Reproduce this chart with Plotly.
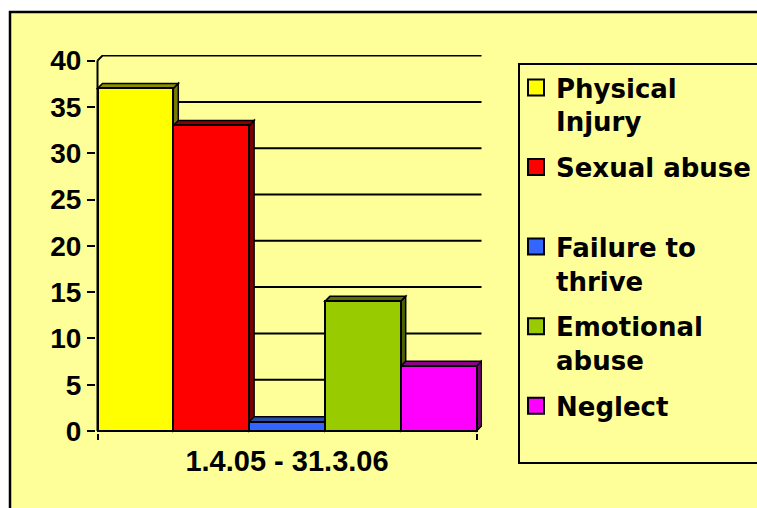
import plotly.graph_objects as go

# ---------------- data ----------------
period_label = "1.4.05 - 31.3.06"
series_names = ["Physical Injury", "Sexual abuse", "Failure to thrive", "Emotional abuse", "Neglect"]
legend_labels = ["Physical<br>Injury", "Sexual abuse<br> ", "Failure to<br>thrive", "Emotional<br>abuse", "Neglect"]
values = [37, 33, 1, 14, 7]
y_ticks = [0, 5, 10, 15, 20, 25, 30, 35, 40]

# ---------------- style ----------------
front_colors = ["#FFFF00", "#FF0000", "#3366FF", "#99CC00", "#FF00FF"]
top_colors = ["#8C8C00", "#8C0000", "#2A4DA8", "#557000", "#8C008C"]
side_colors = ["#7A7A00", "#7A0000", "#1F3D8C", "#4A6300", "#7A007A"]
BG = "#FFFF99"

W, H = 757, 508
ML, MR, MT, MB = 96, 275, 55, 75
PX_X = 75.8      # pixels per x unit (one bar width)
PX_Y = 9.26      # pixels per value unit
X0PX = 97.5      # pixel of the front-left edge (x = -0.5)
Y0PX = 431.0     # pixel of value 0
x_lo = -0.5 - (X0PX - ML) / PX_X
x_hi = -0.5 + (W - MR - X0PX) / PX_X
y_lo = -(H - MB - Y0PX) / PX_Y
y_hi = (Y0PX - MT) / PX_Y
DX = 5.0 / PX_X   # 3-D depth offset
DY = 5.0 / PX_Y

PW, PH = W - ML - MR, H - MT - MB


def pxx(px):
    return (px - ML) / PW


def pxy(py):
    return (H - MB - py) / PH


fig = go.Figure()
n = len(values)
for i, v in enumerate(values):
    fig.add_trace(go.Bar(
        x=[i], y=[v], width=1, name=series_names[i], legendgroup=series_names[i],
        showlegend=False,
        marker=dict(color=front_colors[i], line=dict(color="black", width=2)),
        hovertext=[series_names[i]], hoverinfo="text+y",
    ))
# legend entries (larger swatches, linked to the bars by legendgroup)
for i, lab in enumerate(legend_labels):
    fig.add_trace(go.Scatter(
        x=[None], y=[None], mode="markers", name=lab, legendgroup=series_names[i],
        marker=dict(symbol="square", size=16, color=front_colors[i],
                    line=dict(color="black", width=2)),
        hoverinfo="skip",
    ))

shapes = []
# outer frame
shapes.append(dict(type="rect", xref="paper", yref="paper",
                   x0=pxx(10), x1=pxx(W + 30), y0=pxy(12), y1=pxy(H + 30),
                   fillcolor=BG, line=dict(color="black", width=2.5), layer="below"))
# legend frame
shapes.append(dict(type="rect", xref="paper", yref="paper",
                   x0=pxx(519), x1=pxx(W + 30), y0=pxy(64), y1=pxy(463),
                   fillcolor="rgba(0,0,0,0)", line=dict(color="black", width=2), layer="below"))
# back-wall gridlines
for v in y_ticks[1:]:
    shapes.append(dict(type="path", xref="x", yref="y", layer="below",
                       path=f"M {-0.5} {v} L {-0.5 + DX} {v + DY} L {n - 0.5 + DX} {v + DY}",
                       line=dict(color="black", width=2)))
# side faces
for i, v in enumerate(values):
    r = i + 0.5
    shapes.append(dict(type="path", xref="x", yref="y", layer="below",
                       path=f"M {r} 0 L {r} {v} L {r + DX} {v + DY} L {r + DX} {DY} Z",
                       fillcolor=side_colors[i], line=dict(color="black", width=1.5)))
# top faces
for i, v in enumerate(values):
    l, r = i - 0.5, i + 0.5
    shapes.append(dict(type="path", xref="x", yref="y", layer="below",
                       path=f"M {l} {v} L {r} {v} L {r + DX} {v + DY} L {l + DX} {v + DY} Z",
                       fillcolor=top_colors[i], line=dict(color="black", width=1.5)))
# front y-axis edge
shapes.append(dict(type="line", xref="x", yref="y", layer="above",
                   x0=-0.5, x1=-0.5, y0=0, y1=y_ticks[-1], line=dict(color="black", width=2)))

tick_font = dict(family="Liberation Sans", size=28, color="black", weight="bold")
xtick_font = dict(family="Liberation Sans", size=29, color="black", weight="bold")

fig.update_layout(
    width=W, height=H,
    margin=dict(l=ML, r=MR, t=MT, b=MB, pad=0, autoexpand=False),
    paper_bgcolor="white", plot_bgcolor="rgba(0,0,0,0)",
    barmode="overlay", bargap=0,
    shapes=shapes,
    showlegend=True,
    legend=dict(
        x=pxx(516), xanchor="left", y=pxy(64), yanchor="top",
        font=dict(family="DejaVu Sans", size=26, color="black", weight="bold"),
        bgcolor="rgba(0,0,0,0)", borderwidth=0, valign="top",
        tracegroupgap=9, traceorder="grouped", itemsizing="trace",
    ),
    xaxis=dict(
        range=[x_lo, x_hi], showgrid=False, zeroline=False, showline=False,
        tickvals=[(n - 1) / 2], ticktext=[period_label], ticks="",
        tickfont=xtick_font, ticklabelstandoff=8,
        minor=dict(tickvals=[-0.5, n - 0.5], ticks="outside", ticklen=6,
                   tickwidth=2, tickcolor="black", showgrid=False),
        fixedrange=True,
    ),
    yaxis=dict(
        range=[y_lo, y_hi], showgrid=False, zeroline=False, showline=False,
        tickvals=y_ticks, ticks="outside", ticklen=8, tickwidth=2, tickcolor="black",
        tickfont=tick_font, fixedrange=True,
    ),
)

fig.write_html("out.html", config={"displayModeBar": False},
               post_script="document.body.style.margin='0px';document.body.style.overflow='hidden';")
